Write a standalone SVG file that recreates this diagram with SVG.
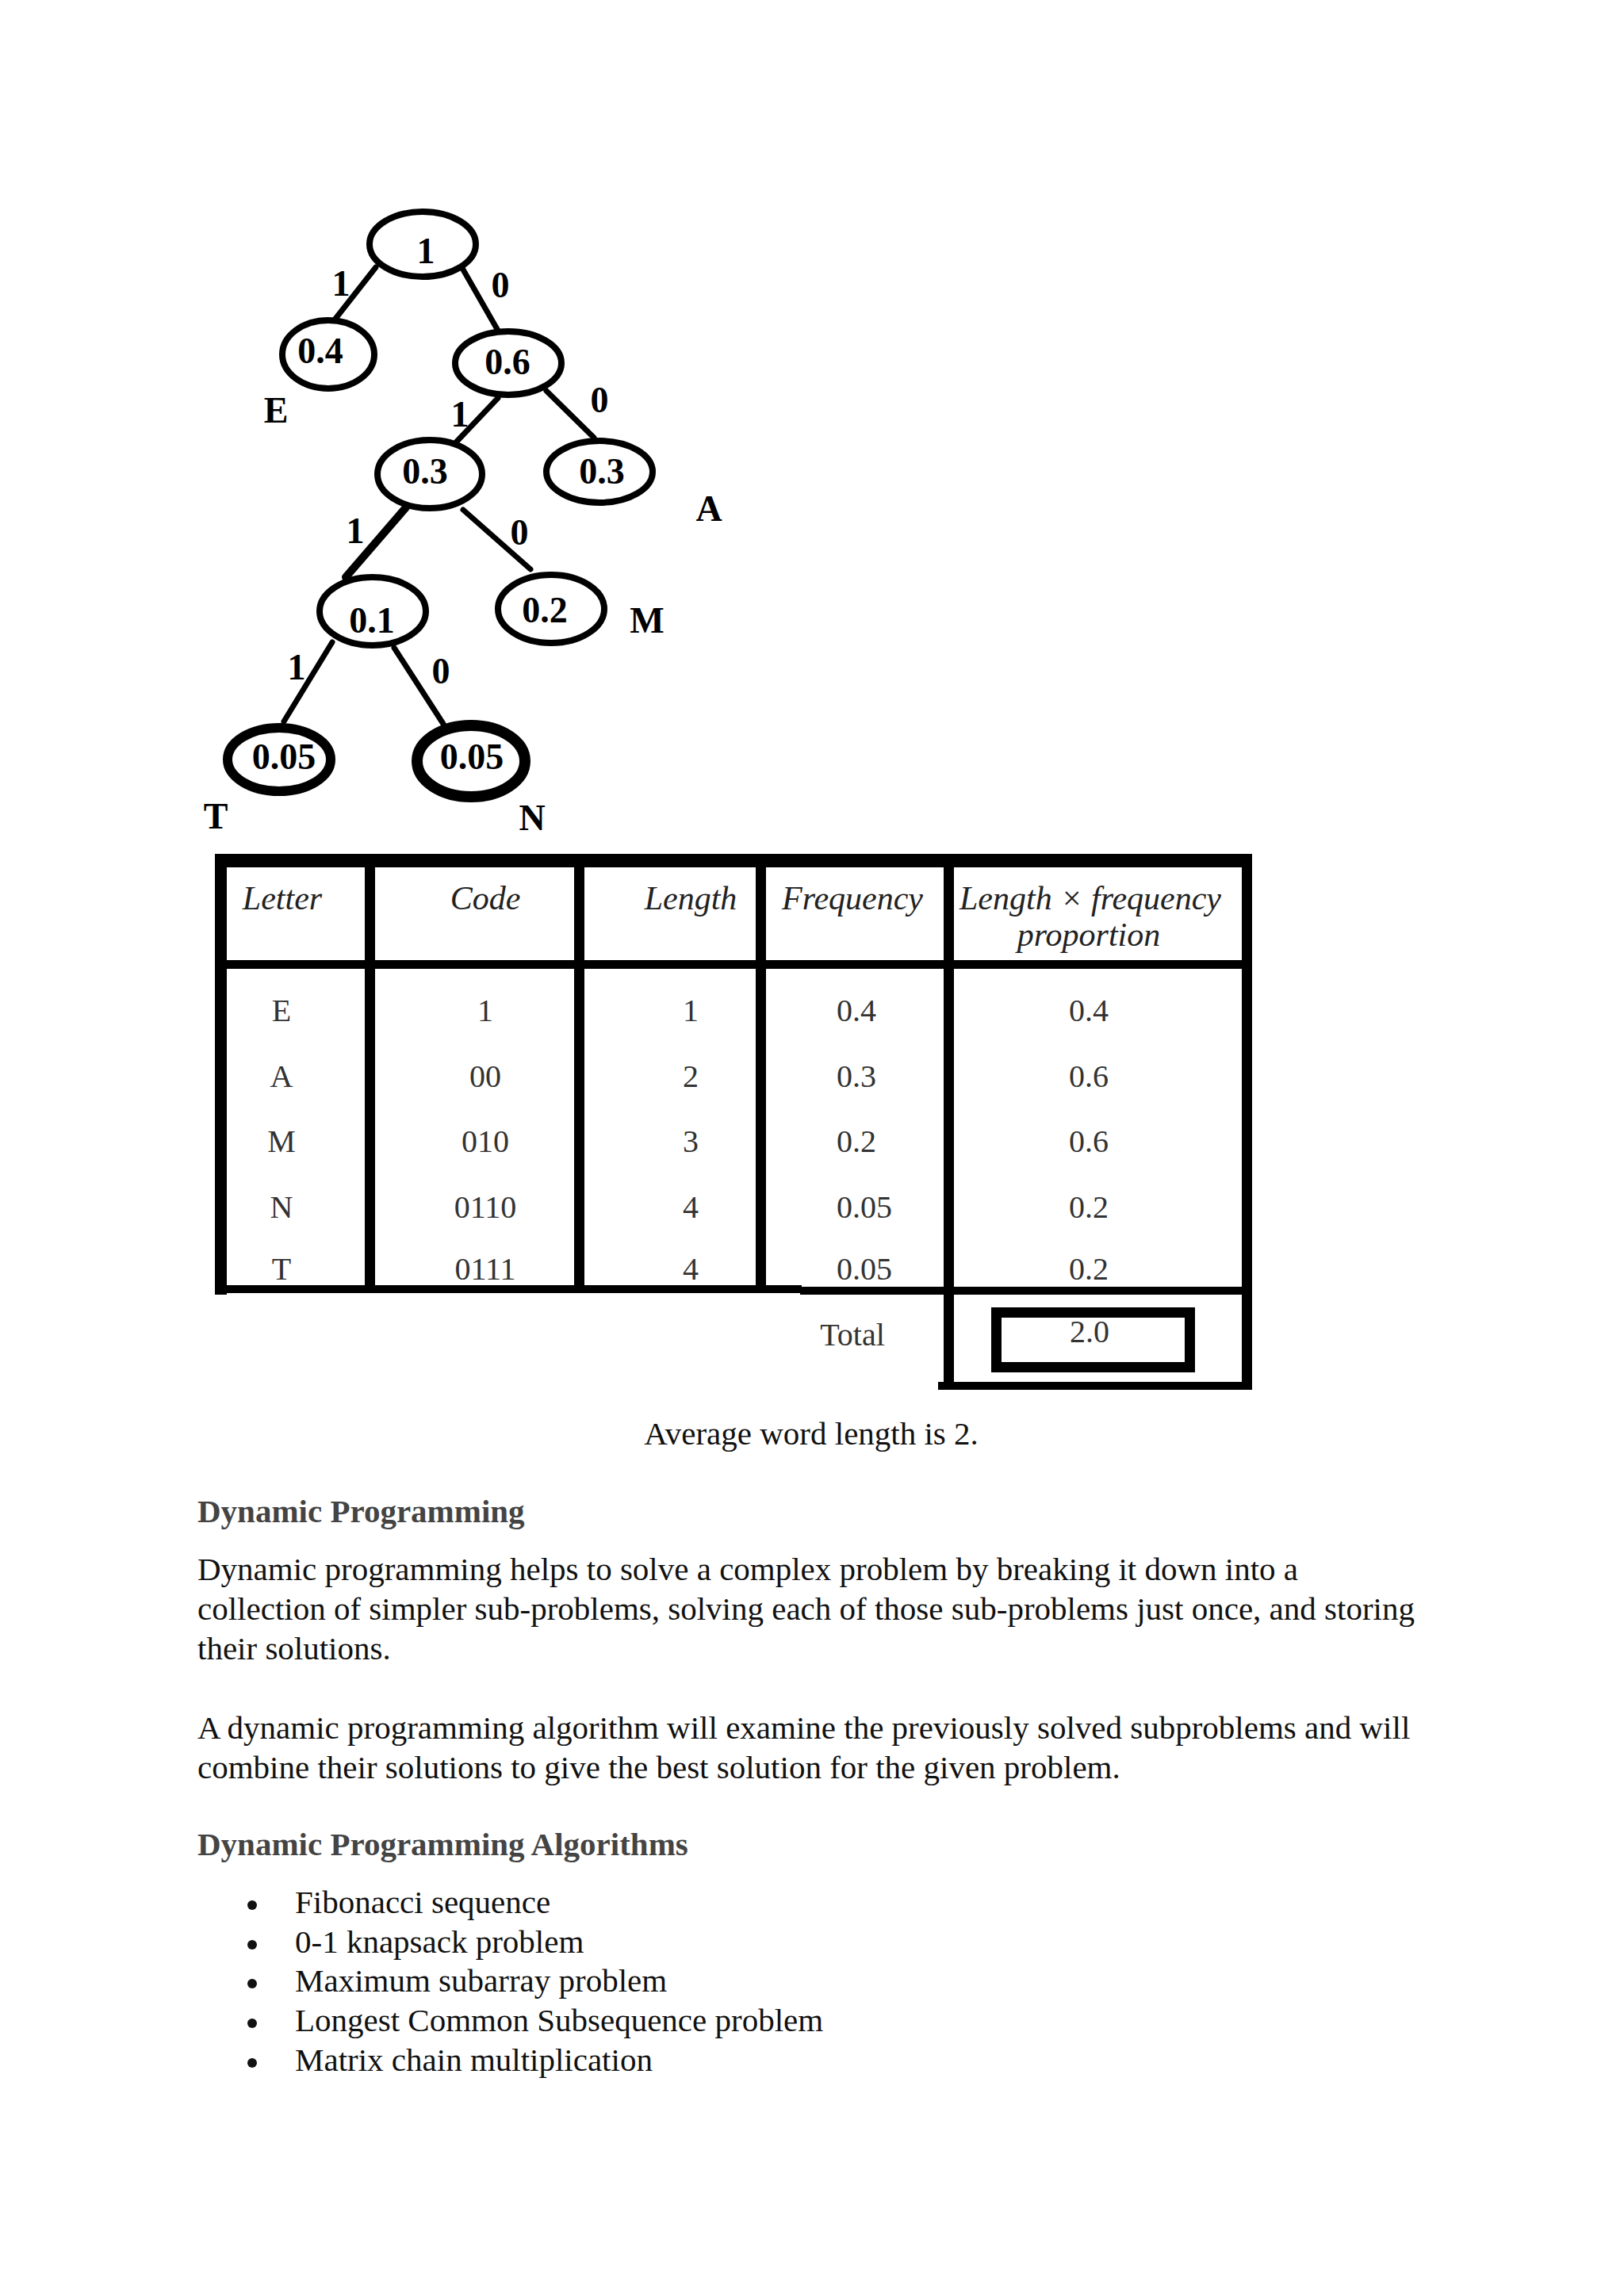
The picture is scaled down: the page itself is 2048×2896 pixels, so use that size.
<svg xmlns="http://www.w3.org/2000/svg" width="2048" height="2896" viewBox="0 0 2048 2896">
<style>
.tt{font-family:"Liberation Serif","Times New Roman",serif;font-weight:bold;font-size:46px;fill:#000;text-anchor:middle}
.nd{fill:#fff;stroke:#000;stroke-width:8}
.ed{stroke:#000;stroke-width:7;stroke-linecap:round}
.th{font-family:"Liberation Serif","Times New Roman",serif;font-style:italic;font-size:42px;fill:#222;text-anchor:middle}
.tb{font-family:"Liberation Serif","Times New Roman",serif;font-size:40px;fill:#333;text-anchor:middle}
.tbl{font-family:"Liberation Serif","Times New Roman",serif;font-size:40px;fill:#333}
.bar{fill:#000}
.p{font-family:"Liberation Serif","Times New Roman",serif;font-size:41px;fill:#111}
.h{font-family:"Liberation Serif","Times New Roman",serif;font-size:41px;font-weight:bold;fill:#444}
.bu{fill:#111}
</style>
<rect x="0" y="0" width="2048" height="2896" fill="#fff"/>

<g id="connectors">
<line class="ed" x1="474" y1="337" x2="423" y2="402"/>
<line class="ed" x1="584" y1="340" x2="628" y2="417"/>
<line class="ed" x1="628" y1="502" x2="573" y2="560"/>
<line class="ed" x1="689" y1="493" x2="749" y2="552"/>
<line class="ed" x1="512" y1="640" x2="436" y2="728" style="stroke-width:10"/>
<line class="ed" x1="584" y1="643" x2="669" y2="718"/>
<line class="ed" x1="419" y1="810" x2="358" y2="910"/>
<line class="ed" x1="497" y1="817" x2="559" y2="913"/>
<text class="tt" x="430" y="373">1</text>
<text class="tt" x="631" y="375">0</text>
<text class="tt" x="580" y="538">1</text>
<text class="tt" x="756" y="520">0</text>
<text class="tt" x="448" y="685">1</text>
<text class="tt" x="655" y="687">0</text>
<text class="tt" x="374" y="857">1</text>
<text class="tt" x="556" y="862">0</text>
</g>

<g id="node-root"><ellipse class="nd" cx="533" cy="308" rx="67" ry="41"/><text class="tt" x="537" y="332">1</text></g>
<g id="node-E"><ellipse class="nd" cx="414" cy="447" rx="58" ry="43"/><text class="tt" x="404" y="458">0.4</text><text class="tt" x="348" y="533">E</text></g>
<g id="node-06"><ellipse class="nd" cx="641" cy="458" rx="67" ry="40"/><text class="tt" x="640" y="472">0.6</text></g>
<g id="node-03"><ellipse class="nd" cx="542" cy="598" rx="66" ry="43"/><text class="tt" x="536" y="610">0.3</text></g>
<g id="node-A"><ellipse class="nd" cx="756" cy="595" rx="67" ry="39"/><text class="tt" x="759" y="610">0.3</text><text class="tt" x="894" y="657">A</text></g>
<g id="node-01"><ellipse class="nd" cx="470" cy="771" rx="67" ry="43"/><text class="tt" x="469" y="798">0.1</text></g>
<g id="node-M"><ellipse class="nd" cx="695" cy="768" rx="67" ry="43"/><text class="tt" x="687" y="785">0.2</text><text class="tt" x="816" y="798">M</text></g>
<g id="node-T"><ellipse class="nd" cx="352" cy="958" rx="65" ry="40" style="stroke-width:12"/><text class="tt" x="358" y="970">0.05</text><text class="tt" x="272" y="1045">T</text></g>
<g id="node-N"><ellipse class="nd" cx="594" cy="960" rx="68" ry="45" style="stroke-width:14"/><text class="tt" x="595" y="970">0.05</text><text class="tt" x="671" y="1047">N</text></g>

<g id="table">
<rect class="bar" x="271" y="1077" width="1308" height="17"/>
<rect class="bar" x="271" y="1077" width="15" height="556"/>
<rect class="bar" x="271" y="1211" width="1308" height="11"/>
<rect class="bar" x="460" y="1077" width="13" height="554"/>
<rect class="bar" x="724" y="1077" width="13" height="554"/>
<rect class="bar" x="953" y="1077" width="13" height="554"/>
<rect class="bar" x="1190" y="1077" width="13" height="676"/>
<rect class="bar" x="1566" y="1077" width="13" height="676"/>
<rect class="bar" x="271" y="1621" width="740" height="10"/>
<rect class="bar" x="1009" y="1623" width="570" height="10"/>
<rect class="bar" x="1183" y="1743" width="396" height="10"/>
<rect x="1256.5" y="1655.5" width="244" height="69" fill="none" stroke="#000" stroke-width="13"/>

<text class="th" x="356" y="1147">Letter</text>
<text class="th" x="612" y="1147">Code</text>
<text class="th" x="871" y="1147">Length</text>
<text class="th" x="1075" y="1147">Frequency</text>
<text class="th" x="1375" y="1147">Length × frequency</text>
<text class="th" x="1373" y="1193">proportion</text>

<text class="tb" x="355" y="1288">E</text>
<text class="tb" x="612" y="1288">1</text>
<text class="tb" x="871" y="1288">1</text>
<text class="tbl" x="1055" y="1288">0.4</text>
<text class="tb" x="1373" y="1288">0.4</text>

<text class="tb" x="355" y="1371">A</text>
<text class="tb" x="612" y="1371">00</text>
<text class="tb" x="871" y="1371">2</text>
<text class="tbl" x="1055" y="1371">0.3</text>
<text class="tb" x="1373" y="1371">0.6</text>

<text class="tb" x="355" y="1453">M</text>
<text class="tb" x="612" y="1453">010</text>
<text class="tb" x="871" y="1453">3</text>
<text class="tbl" x="1055" y="1453">0.2</text>
<text class="tb" x="1373" y="1453">0.6</text>

<text class="tb" x="355" y="1536">N</text>
<text class="tb" x="612" y="1536">0110</text>
<text class="tb" x="871" y="1536">4</text>
<text class="tbl" x="1055" y="1536">0.05</text>
<text class="tb" x="1373" y="1536">0.2</text>

<text class="tb" x="355" y="1614">T</text>
<text class="tb" x="612" y="1614">0111</text>
<text class="tb" x="871" y="1614">4</text>
<text class="tbl" x="1055" y="1614">0.05</text>
<text class="tb" x="1373" y="1614">0.2</text>

<text class="tb" x="1075" y="1697">Total</text>
<text class="tb" x="1374" y="1693">2.0</text>
</g>

<g id="text">
<text class="p" x="1023" y="1822" text-anchor="middle">Average word length is 2.</text>
<text class="h" x="249" y="1920">Dynamic Programming</text>
<text class="p" x="249" y="1993">Dynamic programming helps to solve a complex problem by breaking it down into a</text>
<text class="p" x="249" y="2043">collection of simpler sub-problems, solving each of those sub-problems just once, and storing</text>
<text class="p" x="249" y="2093">their solutions.</text>
<text class="p" x="249" y="2193">A dynamic programming algorithm will examine the previously solved subproblems and will</text>
<text class="p" x="249" y="2243">combine their solutions to give the best solution for the given problem.</text>
<text class="h" x="249" y="2340">Dynamic Programming Algorithms</text>
<circle class="bu" cx="318" cy="2403" r="6"/><text class="p" x="372" y="2413">Fibonacci sequence</text>
<circle class="bu" cx="318" cy="2453" r="6"/><text class="p" x="372" y="2463">0-1 knapsack problem</text>
<circle class="bu" cx="318" cy="2502" r="6"/><text class="p" x="372" y="2512">Maximum subarray problem</text>
<circle class="bu" cx="318" cy="2552" r="6"/><text class="p" x="372" y="2562">Longest Common Subsequence problem</text>
<circle class="bu" cx="318" cy="2602" r="6"/><text class="p" x="372" y="2612">Matrix chain multiplication</text>
</g>
</svg>
